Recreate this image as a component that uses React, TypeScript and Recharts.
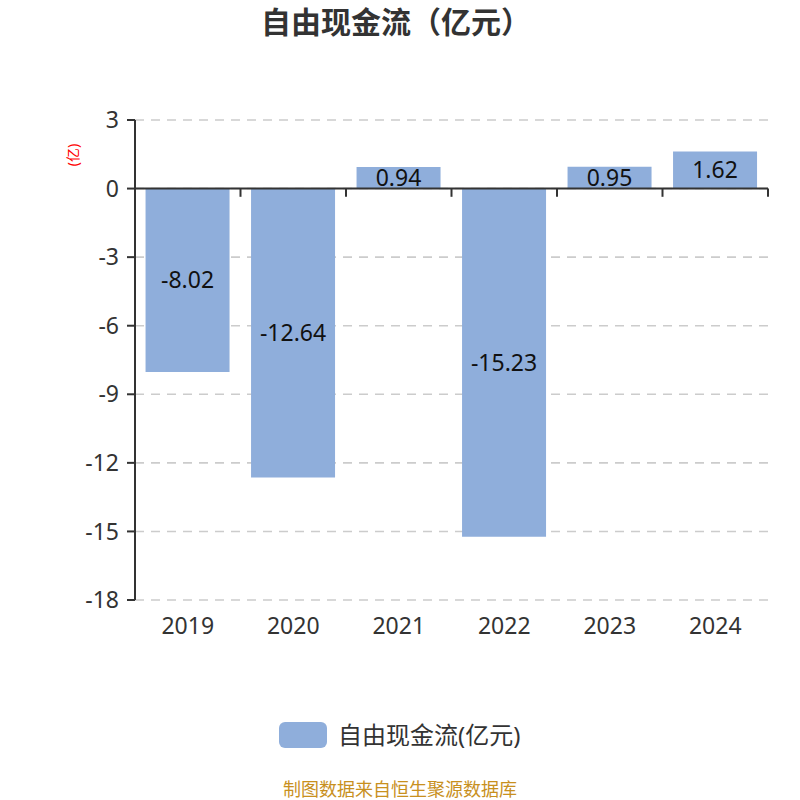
import React from 'react';
import { BarChart, Bar, XAxis, YAxis, CartesianGrid, ReferenceLine, LabelList } from 'recharts';

const years = ['2019', '2020', '2021', '2022', '2023', '2024'];
const fcf = [-8.02, -12.64, 0.94, -15.23, 0.95, 1.62];
const yTicks = [3, 0, -3, -6, -9, -12, -15, -18];

const data = years.map((y, i) => ({ year: y, value: fcf[i] }));

const FONT = '"Noto Sans", "Noto Sans CJK SC", sans-serif';
const BAR = '#8FAEDB';
const AXIS = '#333333';

export default function App() {
  return (
    <div style={{ position: 'absolute', left: 0, top: 0, width: 800, height: 800, background: '#fff', fontFamily: FONT }}>
      <div style={{ position: 'absolute', left: 0, top: 2, width: 792, textAlign: 'center', fontSize: 30, fontWeight: 'bold', color: '#333', lineHeight: '40px' }}>
        自由现金流（亿元）
      </div>
      <div style={{ position: 'absolute', left: 58, top: 145, width: 30, height: 20, textAlign: 'center', fontSize: 14, color: '#ff0000', transform: 'rotate(-90deg)', lineHeight: '20px' }}>
        (亿)
      </div>
      <BarChart width={800} height={800} data={data} margin={{ top: 120, right: 32, bottom: 160, left: 75 }} barCategoryGap="10%">
        <CartesianGrid horizontal vertical={false} stroke="#cccccc" strokeWidth={1.6} strokeDasharray="9 7" />
        <XAxis dataKey="year" axisLine={false} tickLine={false} tickSize={0} tickMargin={18} height={40}
          tick={{ fill: '#333', fontSize: 23, fontFamily: FONT }} interval={0} />
        <YAxis domain={[-18, 3]} ticks={yTicks} width={60} interval={0}
          axisLine={{ stroke: AXIS, strokeWidth: 2 }} tickLine={{ stroke: AXIS, strokeWidth: 2 }} tickSize={8} tickMargin={8}
          tick={{ fill: '#333', fontSize: 23, fontFamily: FONT }} />
        <Bar dataKey="value" fill={BAR} isAnimationActive={false}>
          <LabelList dataKey="value" position="center" fill="#111" fontSize={23} fontFamily={FONT} />
        </Bar>
        <ReferenceLine y={0} stroke={AXIS} strokeWidth={2} />
        {years.map((y) => (
          <ReferenceLine key={y} segment={[{ x: y, y: 0 }, { x: y, y: -0.36 }]} position="end" stroke={AXIS} strokeWidth={2} />
        ))}
      </BarChart>
      <div style={{ position: 'absolute', left: 279, top: 722, width: 48, height: 26, borderRadius: 6, background: BAR }} />
      <div style={{ position: 'absolute', left: 338, top: 719, fontSize: 24, color: '#333', lineHeight: '32px' }}>
        自由现金流(亿元)
      </div>
      <div style={{ position: 'absolute', left: 0, top: 777, width: 800, textAlign: 'center', fontSize: 18, color: '#C8901E', lineHeight: '24px' }}>
        制图数据来自恒生聚源数据库
      </div>
    </div>
  );
}
